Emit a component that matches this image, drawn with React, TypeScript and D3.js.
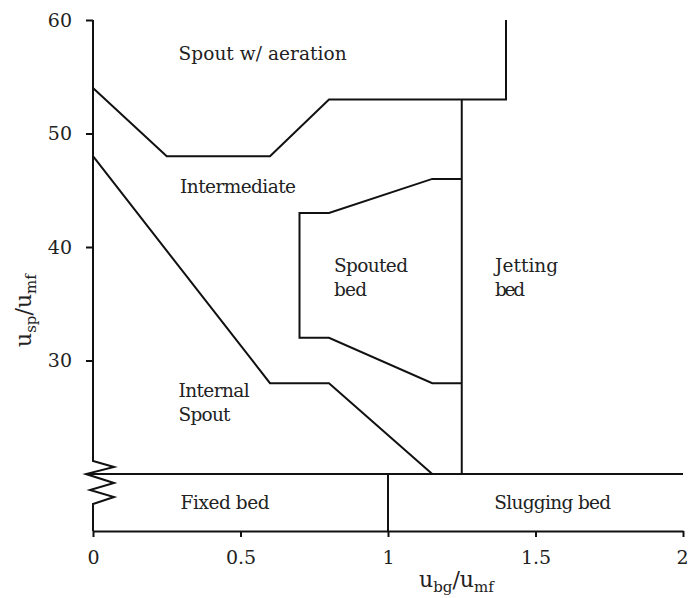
import React, { useEffect, useRef } from "react";
import * as d3 from "d3";

// Regime boundaries in (u_bg/u_mf, u_sp/u_mf)
const aerationBoundary: [number, number][] = [
  [0, 54], [0.25, 48], [0.6, 48], [0.8, 53], [1.4, 53], [1.4, 60],
];
const internalBoundary: [number, number][] = [
  [0, 48], [0.6, 28], [0.8, 28], [1.15, 20],
];
const jettingBoundary: [number, number][] = [
  [1.25, 53], [1.25, 20],
];
const spoutedBoundary: [number, number][] = [
  [1.25, 46], [1.15, 46], [0.8, 43], [0.7, 43], [0.7, 32], [0.8, 32], [1.15, 28], [1.25, 28],
];
const slugBoundaryX = 1;
const bandFloor = 20;

const xTicks = [0, 0.5, 1, 1.5, 2];
const xTickLabels = ["0", "0.5", "1", "1.5", "2"];
const yTicks = [30, 40, 50, 60];
const yTickLabels = ["30", "40", "50", "60"];

// Region names: text lines, anchor x, first baseline y, line widths
const upperLabels: { lines: string[]; x: number; y: number; w: number[] }[] = [
  { lines: ["Spout w/ aeration"], x: 0.29, y: 56.48, w: [168] },
  { lines: ["Intermediate"], x: 0.295, y: 44.73, w: [116] },
  { lines: ["Internal", "Spout"], x: 0.29, y: 26.76, w: [71, 52] },
  { lines: ["Spouted", "bed"], x: 0.817, y: 37.82, w: [74, 33] },
  { lines: ["Jetting", "bed"], x: 1.363, y: 37.82, w: [63, 30] },
];
const lowerLabels: { text: string; x: number; w: number }[] = [
  { text: "Fixed bed", x: 0.297, w: 89 },
  { text: "Slugging bed", x: 1.36, w: 117 },
];

const W = 688;
const H = 598;
const FONT = "'DejaVu Serif', 'Liberation Serif', serif";

export default function App() {
  const xAxisRef = useRef<SVGGElement>(null);
  const yAxisRef = useRef<SVGGElement>(null);

  const x = d3.scaleLinear().domain([0, 2]).range([93, 683]);
  const y = d3.scaleLinear().domain([20, 60]).range([474, 20]);
  const bandBottom = 531;
  const line = d3
    .line<[number, number]>()
    .x((d) => x(d[0]))
    .y((d) => y(d[1]));

  useEffect(() => {
    document.body.style.margin = "0";
    const xa = d3
      .axisBottom(x)
      .tickValues(xTicks)
      .tickFormat((_, i) => xTickLabels[i])
      .tickSize(6)
      .tickSizeOuter(0)
      .tickPadding(14);
    const gx = d3.select(xAxisRef.current!).call(xa as any);
    gx.attr("font-family", null).attr("font-size", null);
    gx.selectAll("path.domain").attr("stroke-width", 2).attr("stroke", "#111");
    gx.selectAll(".tick line").attr("stroke-width", 2).attr("stroke", "#111");
    gx.selectAll(".tick text")
      .style("font-family", FONT)
      .style("font-size", "19px")
      .attr("fill", "#222");
    // keep the last tick label inside the right edge
    const xEnd = x(xTicks[xTicks.length - 1]);
    gx.selectAll<SVGTextElement, number>(".tick text")
      .filter((d) => d === xTicks[xTicks.length - 1])
      .attr("text-anchor", "end")
      .attr("x", W - xEnd);

    const ya = d3
      .axisLeft(y)
      .tickValues(yTicks)
      .tickFormat((_, i) => yTickLabels[i])
      .tickSize(7)
      .tickSizeOuter(0)
      .tickPadding(14);
    const gy = d3.select(yAxisRef.current!).call(ya as any);
    gy.attr("font-family", null).attr("font-size", null);
    gy.select("path.domain").remove();
    gy.selectAll(".tick line").attr("stroke-width", 2).attr("stroke", "#111");
    gy.selectAll(".tick text")
      .style("font-family", FONT)
      .style("font-size", "19px")
      .attr("fill", "#222");
  }, []);

  const x0 = x(0);
  const yTop = y(60);
  const yFloor = y(bandFloor);
  // broken-axis zigzag on the left spine
  const zig: [number, number][] = [
    [x0, yTop], [x0, 461], [x0 + 21, 467], [x0 - 7, yFloor], [x0 + 21, 483],
    [x0 - 3, 490], [x0 + 21, 497], [x0, 504], [x0, bandBottom],
  ];
  const spine = d3.line()(zig as any) as string;

  const stroke = "#111";
  const sw = 2;

  return (
    <svg
      width={W}
      height={H}
      style={{ display: "block", background: "#fff", fontFamily: FONT }}
    >
      <rect width={W} height={H} fill="#fff" />
      <g fill="none" stroke={stroke} strokeWidth={sw} strokeLinejoin="miter">
        <path d={spine} />
        <path d={line(aerationBoundary)!} />
        <path d={line(internalBoundary)!} />
        <path d={line(jettingBoundary)!} />
        <path d={line(spoutedBoundary)!} />
        <line x1={x0 - 7} x2={x(2)} y1={yFloor} y2={yFloor} />
        <line x1={x(slugBoundaryX)} x2={x(slugBoundaryX)} y1={yFloor} y2={bandBottom} />
      </g>
      <g ref={xAxisRef} transform={`translate(0,${bandBottom})`} />
      <g ref={yAxisRef} transform={`translate(${x0},0)`} />

      <g fill="#222" style={{ fontSize: "18.5px" }}>
        {upperLabels.map((l, i) =>
          l.lines.map((t, j) => (
            <text
              key={`${i}-${j}`}
              x={x(l.x)}
              y={y(l.y) + j * 24}
              textLength={l.w[j]}
              lengthAdjust="spacing"
            >
              {t}
            </text>
          ))
        )}
        {lowerLabels.map((l, i) => (
          <text key={i} x={x(l.x)} y={509} textLength={l.w} lengthAdjust="spacing">
            {l.text}
          </text>
        ))}
      </g>

      {/* x axis title */}
      <text x={419} y={587} fill="#222" style={{ fontSize: "22px" }}>
        u<tspan style={{ fontSize: "15px" }} dy={5}>bg</tspan>
        <tspan style={{ fontSize: "22px" }} dy={-5}>/u</tspan>
        <tspan style={{ fontSize: "15px" }} dy={5}>mf</tspan>
      </text>
      {/* y axis title */}
      <text transform="translate(31,347) rotate(-90)" fill="#222" style={{ fontSize: "22px" }}>
        u<tspan style={{ fontSize: "15px" }} dy={5}>sp</tspan>
        <tspan style={{ fontSize: "22px" }} dy={-5}>/u</tspan>
        <tspan style={{ fontSize: "15px" }} dy={5}>mf</tspan>
      </text>
    </svg>
  );
}
